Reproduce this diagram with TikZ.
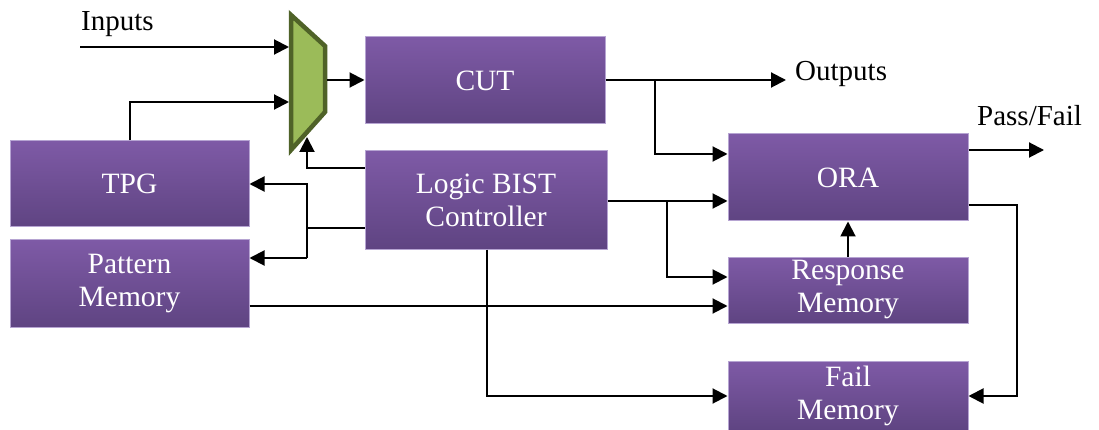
\documentclass[tikz,border=0pt]{standalone}
\usepackage{fontspec}
\setmainfont{Liberation Serif}
\usetikzlibrary{arrows.meta,calc}
\definecolor{boxtop}{RGB}{126,90,166}
\definecolor{boxbot}{RGB}{95,68,130}
\definecolor{boxline}{RGB}{182,164,210}
\definecolor{muxfill}{RGB}{155,187,89}
\definecolor{muxline}{RGB}{79,98,40}
\tikzset{
  blk/.style={rectangle, draw=boxline, line width=1pt, top color=boxtop, bottom color=boxbot,
    text=white, align=center, inner sep=0pt, font=\fontsize{29.5}{33}\selectfont},
  wire/.style={line width=2pt, black},
  arr/.style={wire, -{Triangle[length=15pt,width=15pt]}},
  lbl/.style={font=\fontsize{29}{32}\selectfont, inner sep=0pt},
}
\begin{document}
\begin{tikzpicture}[x=1pt,y=-1pt]
\fill[white] (0,0) rectangle (1099,430);
\useasboundingbox (0,0) rectangle (1099,430);

% functional blocks
\node[blk, minimum width=240pt, minimum height=87pt] (cut) at (485,80.5) {CUT};
\node[blk, minimum width=242pt, minimum height=98pt] (ctl) at (486,200) {Logic BIST\\Controller};
\node[blk, minimum width=239pt, minimum height=86pt] (tpg) at (129.5,184) {TPG};
\node[blk, minimum width=239pt, minimum height=87pt] (pat) at (129.5,283.5) {Pattern\\Memory};
\node[blk, minimum width=240pt, minimum height=87pt] (ora) at (848,177.5) {ORA};
\node[blk, minimum width=240pt, minimum height=66pt] (rsp) at (848,290) {Response\\Memory};
\node[blk, minimum width=240pt, minimum height=69pt] (fail) at (848,395.5) {Fail\\Memory};

% input multiplexer
\draw[line width=4.5pt, muxline, fill=muxfill, line join=miter]
  (291,15) -- (325,46) -- (325,112) -- (291,150) -- cycle;
\coordinate (muxA) at (289,47);
\coordinate (muxB) at (289,102);
\coordinate (muxO) at (327,80);
\coordinate (muxS) at (307,137);

% labels
\node[lbl, anchor=base west] (inp) at (81,31) {Inputs};
\node[lbl, anchor=base west] (outp) at (795,81) {Outputs};
\node[lbl, anchor=base west] (pf) at (977,126) {Pass/Fail};
\coordinate (inS) at (80,47);
\coordinate (outE) at (786,80);
\coordinate (pfE) at (1044,150);

% connections
\draw[arr] (inS) -- (muxA);
\draw[arr] (tpg.north) -- (tpg.north |- muxB) -- (muxB);
\draw[arr] (muxO) -- (cut.west |- muxO);
\draw[arr] (ctl.west |- 0,168) -| (muxS);

\draw[wire] (ctl.west |- 0,228) -- (307,228);
\draw[arr] (307,258) -- (307,184) -- (tpg.east |- 0,184);
\draw[arr] (307,258) -- (pat.east |- 0,258);

\draw[arr] (cut.east |- 0,80) -- (outE);
\draw[arr] (655,80) -- (655,154) -- (ora.west |- 0,154);
\draw[arr] (ctl.east |- 0,201) -- (ora.west |- 0,201);
\draw[arr] (667,201) -- (667,277) -- (rsp.west |- 0,277);
\draw[arr] (pat.east |- 0,306) -- (rsp.west |- 0,306);
\draw[arr] (ctl.south -| 487,0) -- (487,396) -- (fail.west |- 0,396);
\draw[arr] (ora.east |- 0,150) -- (pfE);
\draw[arr] (ora.east |- 0,205) -- (1017,205) -- (1017,396) -- (fail.east |- 0,396);
\draw[arr] (rsp.north) -- (ora.south);
\end{tikzpicture}
\end{document}
